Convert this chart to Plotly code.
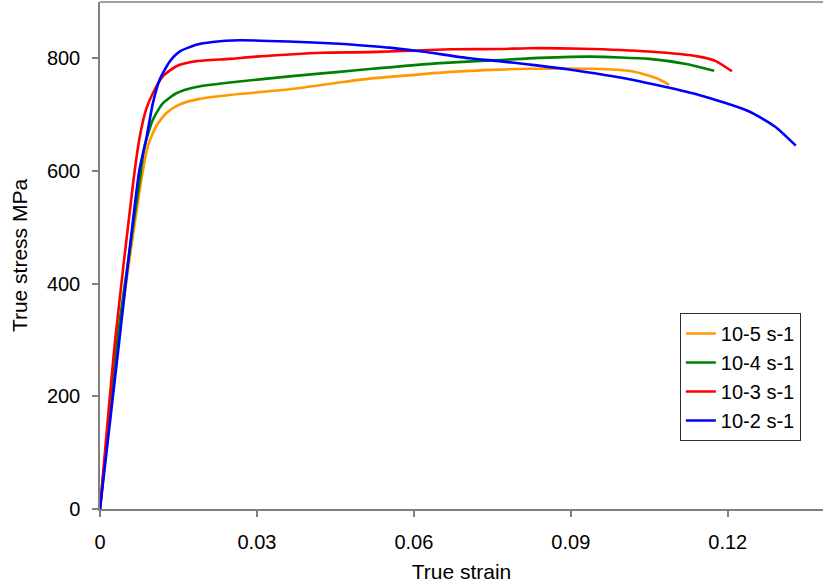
import plotly.graph_objects as go

# True stress-strain curves at four strain rates
strain_1e5 = [0, 0.0035, 0.0079, 0.0091, 0.0107, 0.0127, 0.0152, 0.0190, 0.0248,
              0.0362, 0.0457, 0.0515, 0.0553, 0.0670, 0.0763, 0.0820, 0.0941, 0.1017,
              0.1063, 0.1088]
stress_1e5 = [0, 300, 584, 643, 679, 703, 718, 728, 735,
              745, 757, 764, 767, 776, 780, 781.5, 781.5, 777,
              765, 753]

strain_1e4 = [0, 0.0033, 0.0076, 0.0085, 0.0101, 0.0120, 0.0146, 0.0184, 0.0248,
              0.0362, 0.0457, 0.0515, 0.0553, 0.0642, 0.0763, 0.0820, 0.0936, 0.1050,
              0.1120, 0.1174]
stress_1e4 = [0, 300, 584, 643, 691, 720, 738, 749, 757,
              768, 776, 781, 784, 791, 797, 800, 803, 799,
              790, 778]

strain_1e3 = [0, 0.0029, 0.0064, 0.0076, 0.0088, 0.0101, 0.0120, 0.0146, 0.0184, 0.0248,
              0.0298, 0.0425, 0.0515, 0.0670, 0.0763, 0.0820, 0.0922, 0.1050, 0.1145,
              0.1177, 0.1208]
stress_1e3 = [0, 300, 584, 661, 709, 738, 768, 786, 795, 799,
              803, 810, 811, 816, 816.5, 818, 817, 812, 803,
              795, 777]

strain_1e2 = [0, 0.0037, 0.0075, 0.0088, 0.0101, 0.0114, 0.0133, 0.0152, 0.0184, 0.0215,
              0.0267, 0.0360, 0.0457, 0.0515, 0.0553, 0.0616, 0.0706, 0.0763, 0.0820,
              0.0890, 0.1017, 0.1145, 0.1240, 0.1290, 0.1330]
stress_1e2 = [0, 300, 600, 655, 720, 762, 794, 812, 824, 829,
              832, 830, 826, 822, 819, 812, 800, 795, 789,
              781, 762, 735, 706, 679, 645]

series_names = ["10-5 s-1", "10-4 s-1", "10-3 s-1", "10-2 s-1"]
series_colors = ["#FF9900", "#008000", "#FF0000", "#0000FF"]
x_ticks = [0, 0.03, 0.06, 0.09, 0.12]
x_tick_text = ["0", "0.03", "0.06", "0.09", "0.12"]
y_ticks = [0, 200, 400, 600, 800]

data = [(strain_1e5, stress_1e5), (strain_1e4, stress_1e4),
        (strain_1e3, stress_1e3), (strain_1e2, stress_1e2)]

fig = go.Figure()
for (xs, ys), name, color in zip(data, series_names, series_colors):
    fig.add_trace(go.Scatter(
        x=xs, y=ys, mode="lines", name=name,
        line=dict(color=color, width=2.6, shape="spline", smoothing=0.6),
    ))

font = "Liberation Sans, Arial, sans-serif"
axis_color = "#808080"

fig.update_layout(
    width=823, height=586,
    margin=dict(l=100, r=0, t=2, b=77),
    paper_bgcolor="white", plot_bgcolor="white",
    font=dict(family=font, size=20, color="#000000"),
    showlegend=True,
    legend=dict(
        x=0.802, y=0.3866, xanchor="left", yanchor="top",
        bgcolor="white", bordercolor="#303030", borderwidth=1,
        font=dict(family=font, size=20, color="#000000"),
        itemwidth=30, tracegroupgap=0,
    ),
)

fig.update_xaxes(
    range=[0, 0.1382], tickvals=x_ticks, ticktext=x_tick_text,
    showgrid=False, zeroline=False,
    showline=True, linecolor=axis_color, linewidth=1.5,
    ticks="outside", ticklen=6, tickcolor=axis_color, tickwidth=1.5,
    ticklabelstandoff=8,
    title=dict(text="True strain", font=dict(size=21), standoff=13),
)
fig.update_yaxes(
    range=[0, 900], tickvals=y_ticks,
    showgrid=False, zeroline=False,
    showline=True, linecolor=axis_color, linewidth=1.5,
    ticks="outside", ticklen=6, tickcolor=axis_color, tickwidth=1.5,
    ticklabelstandoff=8,
    title=dict(text="True stress MPa", font=dict(size=21), standoff=14),
)

# top border of the plotting area
fig.add_shape(type="line", xref="paper", yref="paper", x0=0, x1=1, y0=1, y1=1,
              line=dict(color=axis_color, width=1.5))

fig.write_html("out.html")
